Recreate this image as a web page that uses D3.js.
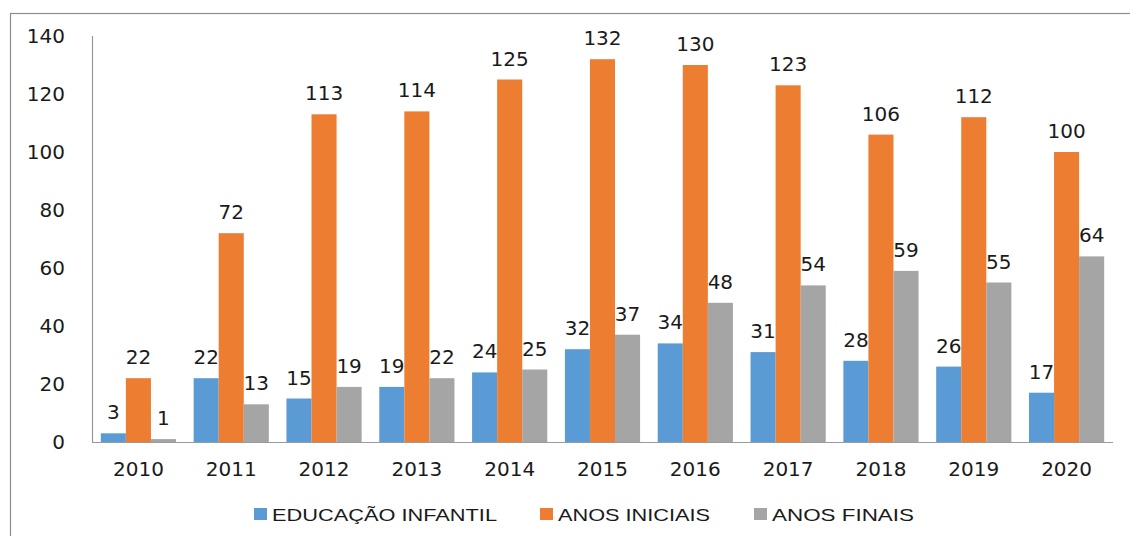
<!DOCTYPE html>
<html><head><meta charset="utf-8">
<script src="https://cdn.jsdelivr.net/npm/d3@7"></script>
<style>
html,body{margin:0;padding:0;background:#fff;}
svg{display:block;}
</style></head>
<body>
<svg id="chart" width="1130" height="536"></svg>
<script>
const years = ["2010","2011","2012","2013","2014","2015","2016","2017","2018","2019","2020"];
const seriesNames = ["EDUCAÇÃO INFANTIL","ANOS INICIAIS","ANOS FINAIS"];
const educacaoInfantil = [3,22,15,19,24,32,34,31,28,26,17];
const anosIniciais = [22,72,113,114,125,132,130,123,106,112,100];
const anosFinais = [1,13,19,22,25,37,48,54,59,55,64];
const yTicks = [0,20,40,60,80,100,120,140];
const colors = ["#5B9BD5","#ED7D31","#A5A5A5"];

const seriesValues = [educacaoInfantil, anosIniciais, anosFinais];
const svg = d3.select("#chart");

// frame
svg.append("rect").attr("x",10.5).attr("y",13.5).attr("width",1130).attr("height",600)
  .attr("fill","none").attr("stroke","#8c8c8c").attr("stroke-width",1.2);

const x = d3.scaleBand().domain(years).range([92,1113]).paddingInner(0.19).paddingOuter(0.095);
const xs = d3.scaleBand().domain(d3.range(3)).range([0, x.bandwidth()]);
const y = d3.scaleLinear().domain([0,140]).range([442,36]);

const font = "'DejaVu Sans', Verdana, sans-serif";
const fs = 20;

// y tick labels
svg.append("g").selectAll("text").data(yTicks).join("text")
  .attr("x",65).attr("y",d=>y(d)).attr("dy","0.36em")
  .attr("text-anchor","end").attr("font-family",font).attr("font-size",fs)
  .attr("fill","#1a1a1a").text(d=>d);

// bars
const groups = svg.append("g").selectAll("g").data(years).join("g")
  .attr("transform",d=>`translate(${x(d)},0)`);
groups.each(function(yr,i){
  const g = d3.select(this);
  seriesValues.forEach((vals,s)=>{
    g.append("rect").attr("x",xs(s)).attr("width",xs.bandwidth())
      .attr("y",y(vals[i])).attr("height",y(0)-y(vals[i])).attr("fill",colors[s]);
  });
  seriesValues.forEach((vals,s)=>{
    g.append("text").attr("x",xs(s)+xs.bandwidth()/2).attr("y",y(vals[i])-14)
      .attr("text-anchor","middle").attr("font-family",font).attr("font-size",fs)
      .attr("fill","#1a1a1a").text(vals[i]);
  });
});

// axes lines
svg.append("line").attr("x1",92.5).attr("x2",92.5).attr("y1",36).attr("y2",442)
  .attr("stroke","#9a9a9a").attr("stroke-width",1.2);
svg.append("line").attr("x1",92).attr("x2",1113).attr("y1",442.5).attr("y2",442.5)
  .attr("stroke","#9a9a9a").attr("stroke-width",1.2);

// x labels
svg.append("g").selectAll("text").data(years).join("text")
  .attr("x",d=>x(d)+x.bandwidth()/2).attr("y",476)
  .attr("text-anchor","middle").attr("font-family",font).attr("font-size",fs)
  .attr("fill","#1a1a1a").text(d=>d);

// legend
const legendX = [254,540,754];
const legendW = [225,152,142];
const lg = svg.append("g").selectAll("g").data(seriesNames).join("g")
  .attr("transform",(d,i)=>`translate(${legendX[i]},508)`);
lg.append("rect").attr("width",13).attr("height",12).attr("fill",(d,i)=>colors[i]);
lg.append("text").attr("x",18).attr("y",12.5)
  .attr("font-family","'Liberation Sans',Arial,sans-serif")
  .attr("font-size",17).attr("fill","#1a1a1a")
  .attr("textLength",(d,i)=>legendW[i]).attr("lengthAdjust","spacingAndGlyphs")
  .text(d=>d);
</script>
</body></html>
